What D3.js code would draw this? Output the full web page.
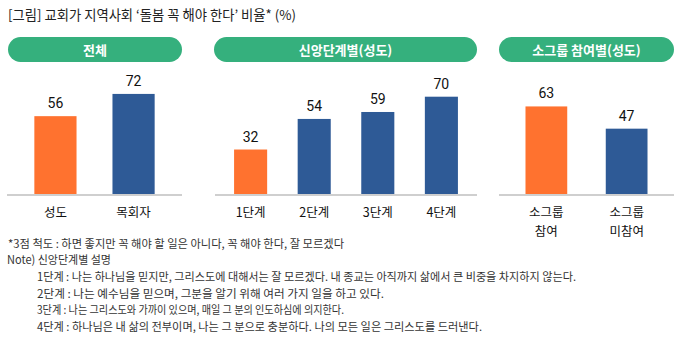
<!DOCTYPE html>
<html>
<head>
<meta charset="utf-8">
<script src="https://cdn.jsdelivr.net/npm/d3@7"></script>
<style>
  html, body { margin: 0; padding: 0; background: #fff; }
  svg { display: block; font-family: "Noto Sans CJK KR", "Noto Sans", sans-serif; }
</style>
</head>
<body>
<svg id="chart" width="692" height="344"></svg>
<script>
// Share (%) saying the church "must" provide community care
const titleText = "[그림] 교회가 지역사회 ‘돌봄 꼭 해야 한다’ 비율* (%)";

const panelTitles = ["전체", "신앙단계별(성도)", "소그룹 참여별(성도)"];

const totalCats = ["성도", "목회자"];
const totalVals = [56, 72];

const stageCats = ["1단계", "2단계", "3단계", "4단계"];
const stageVals = [32, 54, 59, 70];

const groupCats = [["소그룹", "참여"], ["소그룹", "미참여"]];
const groupVals = [63, 47];

const notes = [
  "*3점 척도 : 하면 좋지만 꼭 해야 할 일은 아니다, 꼭 해야 한다, 잘 모르겠다",
  "Note) 신앙단계별 설명",
  "1단계 : 나는 하나님을 믿지만, 그리스도에 대해서는 잘 모르겠다. 내 종교는 아직까지 삶에서 큰 비중을 차지하지 않는다.",
  "2단계 : 나는 예수님을 믿으며, 그분을 알기 위해 여러 가지 일을 하고 있다.",
  "3단계 : 나는 그리스도와 가까이 있으며, 매일 그 분의 인도하심에 의지한다.",
  "4단계 : 하나님은 내 삶의 전부이며, 나는 그 분으로 충분하다. 나의 모든 일은 그리스도를 드러낸다."
];

const ORANGE = "#FF722F";
const BLUE = "#2E5A96";
const GREEN = "#35B07D";

const svg = d3.select("#chart");

svg.append("text")
  .attr("x", 8).attr("y", 20)
  .attr("font-size", 13.5)
  .attr("fill", "#222")
  .attr("textLength", 288)
  .attr("lengthAdjust", "spacingAndGlyphs")
  .text(titleText);

// Shared vertical scale for all panels
const baseY = 194;
const y = d3.scaleLinear().domain([0, 100]).range([baseY, baseY - 139]);

const panels = [
  { x0: 8, x1: 182, axisX0: 7, axisX1: 182, cats: totalCats, vals: totalVals,
    colors: [ORANGE, BLUE], padInner: 0.46, padOuter: 0.35 },
  { x0: 214, x1: 477, axisX0: 215, axisX1: 477, cats: stageCats, vals: stageVals,
    colors: [ORANGE, BLUE, BLUE, BLUE], padInner: 0.48, padOuter: 0.3 },
  { x0: 499, x1: 674, axisX0: 499, axisX1: 674, cats: groupCats, vals: groupVals,
    colors: [ORANGE, BLUE], padInner: 0.48, padOuter: 0.33 }
];

panels.forEach((p, pi) => {
  const g = svg.append("g");

  // header pill
  g.append("rect")
    .attr("x", p.x0).attr("y", 37)
    .attr("width", p.x1 - p.x0).attr("height", 25)
    .attr("rx", 12.5).attr("ry", 12.5)
    .attr("fill", GREEN);
  g.append("text")
    .attr("x", (p.x0 + p.x1) / 2).attr("y", 54.5)
    .attr("text-anchor", "middle")
    .attr("font-size", 13).attr("font-weight", 700)
    .attr("fill", "#fff")
    .text(panelTitles[pi]);

  const keys = p.cats.map((c, i) => i);
  const x = d3.scaleBand()
    .domain(keys)
    .range([p.axisX0, p.axisX1])
    .paddingInner(p.padInner)
    .paddingOuter(p.padOuter);

  g.selectAll("rect.bar")
    .data(p.vals)
    .join("rect")
    .attr("class", "bar")
    .attr("x", (d, i) => x(i))
    .attr("width", x.bandwidth())
    .attr("y", d => y(d))
    .attr("height", d => y(0) - y(d))
    .attr("fill", (d, i) => p.colors[i]);

  g.selectAll("text.val")
    .data(p.vals)
    .join("text")
    .attr("class", "val")
    .attr("x", (d, i) => x(i) + x.bandwidth() / 2)
    .attr("y", d => y(d) - 8)
    .attr("text-anchor", "middle")
    .attr("font-size", 14)
    .attr("fill", "#111")
    .attr("font-family", "Roboto, 'Noto Sans', sans-serif")
    .text(d => d);

  // baseline
  g.append("line")
    .attr("x1", p.axisX0).attr("x2", p.axisX1)
    .attr("y1", baseY + 1).attr("y2", baseY + 1)
    .attr("stroke", "#cfcfcf").attr("stroke-width", 2);

  // category labels (one text element per line)
  p.cats.forEach((c, i) => {
    const lines = Array.isArray(c) ? c : [c];
    lines.forEach((ln, k) => {
      g.append("text")
        .attr("x", x(i) + x.bandwidth() / 2)
        .attr("y", 217 + k * 18.5)
        .attr("text-anchor", "middle")
        .attr("font-size", 12.5)
        .attr("fill", "#111")
        .text(ln);
    });
  });
});

// footnotes
const noteX = [8, 7, 37, 37, 37, 37];
const noteEnd = [344, 111, 576, 384, 344, 482];
const noteY = [248, 264, 281, 298, 314, 331];
notes.forEach((n, i) => {
  svg.append("text")
    .attr("x", noteX[i]).attr("y", noteY[i])
    .attr("font-size", 11.5)
    .attr("fill", "#333")
    .attr("textLength", noteEnd[i] - noteX[i])
    .attr("lengthAdjust", "spacingAndGlyphs")
    .text(n);
});
</script>
</body>
</html>
